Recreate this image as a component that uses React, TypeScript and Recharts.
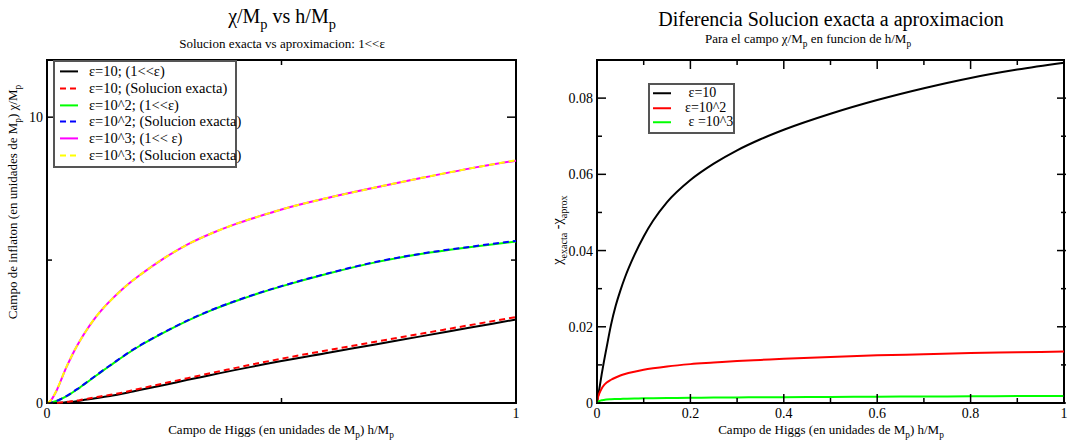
import React from 'react';
import { Legend, Line, LineChart, ReferenceArea, XAxis, YAxis } from 'recharts';

const FONT = '"Liberation Serif", "Times New Roman", serif';

// panel izquierdo: chi/Mp vs h/Mp
const hLeft = [0, 0.005, 0.01, 0.02, 0.03, 0.04, 0.05, 0.06, 0.07, 0.08, 0.1, 0.12, 0.14, 0.16, 0.18, 0.2, 0.25, 0.3, 0.35, 0.4, 0.45, 0.5, 0.6, 0.7, 0.8, 0.9, 1];
const eps10Aprox = [0, 0.001, 0.002, 0.005, 0.01, 0.025, 0.04, 0.055, 0.08, 0.11, 0.16, 0.21, 0.26, 0.32, 0.39, 0.46, 0.63, 0.81, 0.98, 1.15, 1.31, 1.47, 1.76, 2.05, 2.34, 2.63, 2.92];
const eps10Exacta = [0, 0.001, 0.003, 0.008, 0.02, 0.035, 0.055, 0.075, 0.1, 0.13, 0.19, 0.25, 0.3, 0.36, 0.44, 0.51, 0.69, 0.87, 1.05, 1.22, 1.39, 1.55, 1.85, 2.14, 2.43, 2.72, 3.01];
const eps100Aprox = [0, 0.005, 0.02, 0.07, 0.14, 0.22, 0.32, 0.43, 0.54, 0.66, 0.9, 1.14, 1.37, 1.6, 1.82, 2.02, 2.47, 2.88, 3.24, 3.55, 3.83, 4.08, 4.53, 4.92, 5.22, 5.45, 5.65];
const eps100Exacta = [0, 0.005, 0.02, 0.07, 0.14, 0.23, 0.33, 0.44, 0.55, 0.67, 0.91, 1.15, 1.38, 1.61, 1.83, 2.03, 2.48, 2.89, 3.25, 3.56, 3.84, 4.09, 4.54, 4.93, 5.23, 5.46, 5.67];
const eps1000Aprox = [0, 0.04, 0.13, 0.42, 0.8, 1.2, 1.55, 1.88, 2.17, 2.44, 2.92, 3.32, 3.66, 3.97, 4.25, 4.5, 5.07, 5.55, 5.93, 6.25, 6.52, 6.77, 7.18, 7.54, 7.88, 8.2, 8.48];
const eps1000Exacta = [0, 0.04, 0.14, 0.43, 0.81, 1.21, 1.56, 1.88, 2.17, 2.44, 2.92, 3.32, 3.66, 3.97, 4.25, 4.5, 5.07, 5.55, 5.93, 6.25, 6.52, 6.77, 7.18, 7.54, 7.88, 8.2, 8.49];

const leftXTicks = [0, 0.5, 1];
const leftXLabels = [0, 1];
const leftYTicks = [0, 5, 10];
const leftYLabels = [0, 10];

// panel derecho: diferencia exacta - aproximacion
const hRight = [0, 0.002, 0.005, 0.01, 0.015, 0.02, 0.03, 0.04, 0.05, 0.06, 0.08, 0.1, 0.12, 0.15, 0.2, 0.25, 0.3, 0.35, 0.4, 0.5, 0.6, 0.7, 0.8, 0.9, 1];
const dif10 = [0, 0.0016, 0.0037, 0.0075, 0.011, 0.0142, 0.0205, 0.0255, 0.0295, 0.033, 0.0388, 0.0437, 0.0478, 0.0527, 0.0585, 0.0628, 0.0663, 0.0692, 0.0717, 0.0759, 0.0795, 0.0826, 0.0853, 0.0875, 0.0893];
const dif100 = [0, 0.0014, 0.0025, 0.0038, 0.0047, 0.0053, 0.0061, 0.0067, 0.0072, 0.0076, 0.0082, 0.0087, 0.0091, 0.0096, 0.0102, 0.0106, 0.011, 0.0113, 0.0116, 0.0121, 0.0125, 0.0128, 0.0131, 0.0133, 0.0135];
const dif1000 = [0, 0.0003, 0.0005, 0.0007, 0.0008, 0.0009, 0.00098, 0.00104, 0.00108, 0.00112, 0.00118, 0.00122, 0.00126, 0.00131, 0.00138, 0.00142, 0.00146, 0.0015, 0.00153, 0.00159, 0.00165, 0.0017, 0.00176, 0.00181, 0.00186];

const rightXTicks = [0, 0.1, 0.2, 0.3, 0.4, 0.5, 0.6, 0.7, 0.8, 0.9, 1];
const rightXLabels = [0, 0.2, 0.4, 0.6, 0.8, 1];
const rightYTicks = [0, 0.01, 0.02, 0.03, 0.04, 0.05, 0.06, 0.07, 0.08];
const rightYLabels = [0, 0.02, 0.04, 0.06, 0.08];

const leftRows = hLeft.map((h, i) => ({
  h,
  a10: eps10Aprox[i],
  x10: eps10Exacta[i],
  a100: eps100Aprox[i],
  x100: eps100Exacta[i],
  a1000: eps1000Aprox[i],
  x1000: eps1000Exacta[i],
}));
const rightRows = hRight.map((h, i) => ({ h, d10: dif10[i], d100: dif100[i], d1000: dif1000[i] }));

const leftKeys = ['a10', 'x10', 'a100', 'x100', 'a1000', 'x1000'];
const rightKeys = ['d10', 'd100', 'd1000'];

const PLOT_W = 469;
const PLOT_H = 343;

const isIn = (list: number[], v: number) => list.some((t) => Math.abs(t - v) < 1e-9);
const fmt = (v: number) => String(Number(v.toFixed(4)));

// ticks hacia adentro, con espejo arriba / a la derecha
function BottomTick(props: any) {
  const { x, y, payload, labels } = props;
  const v = payload.value;
  const major = isIn(labels, v);
  const len = major ? 9 : 5;
  return (
    <g>
      <line x1={x} x2={x} y1={y} y2={y - len} stroke="#000" strokeWidth={1.5} />
      <line x1={x} x2={x} y1={y - PLOT_H} y2={y - PLOT_H + len} stroke="#000" strokeWidth={1.5} />
      {major && (
        <text x={x} y={y + 15} textAnchor="middle" fontSize={14} fontFamily={FONT} fill="#000">
          {fmt(v)}
        </text>
      )}
    </g>
  );
}

function LeftTick(props: any) {
  const { x, y, payload, labels } = props;
  const v = payload.value;
  const major = isIn(labels, v);
  const len = major ? 9 : 5;
  return (
    <g>
      <line x1={x} x2={x + len} y1={y} y2={y} stroke="#000" strokeWidth={1.5} />
      <line x1={x + PLOT_W} x2={x + PLOT_W - len} y1={y} y2={y} stroke="#000" strokeWidth={1.5} />
      {major && (
        <text x={x - 4} y={y + 5} textAnchor="end" fontSize={14} fontFamily={FONT} fill="#000">
          {fmt(v)}
        </text>
      )}
    </g>
  );
}

function LegendBox({ payload, keys, width, rowH, padX, fontSize, x1 }: any) {
  const items = [...(payload || [])].sort(
    (a: any, b: any) => keys.indexOf(a.dataKey) - keys.indexOf(b.dataKey)
  );
  return (
    <div
      style={{
        border: '2px solid #555',
        background: '#fff',
        width,
        boxSizing: 'border-box',
        padding: '1px 0 2px 0',
        fontFamily: FONT,
        fontSize,
        lineHeight: `${rowH}px`,
      }}
    >
      {items.map((it: any) => (
        <div key={it.dataKey} style={{ display: 'flex', alignItems: 'center', whiteSpace: 'pre' }}>
          <svg width={padX} height={rowH} style={{ flex: 'none' }}>
            <line
              x1={x1}
              x2={x1 + 18}
              y1={rowH / 2}
              y2={rowH / 2}
              stroke={it.color}
              strokeWidth={2}
              strokeDasharray={it.payload?.strokeDasharray}
            />
          </svg>
          <span>{it.value}</span>
        </div>
      ))}
    </div>
  );
}

const Sub = ({ children }: any) => (
  <span style={{ fontSize: '0.72em', position: 'relative', top: '0.45em' }}>{children}</span>
);

const abs = (left: number, top: number, extra: any = {}) => ({
  position: 'absolute' as const,
  left,
  top,
  transform: 'translate(-50%, -50%)',
  whiteSpace: 'nowrap' as const,
  lineHeight: 1,
  ...extra,
});

export default function App() {
  return (
    <div
      style={{
        position: 'absolute',
        left: 0,
        top: 0,
        width: 1092,
        height: 442,
        background: '#fff',
        overflow: 'hidden',
        fontFamily: FONT,
        color: '#000',
      }}
    >
      {/* titulos */}
      <div style={abs(282, 16, { fontSize: 20 })}>
        χ/M<Sub>p</Sub> vs h/M<Sub>p</Sub>
      </div>
      <div style={abs(282, 43, { fontSize: 13 })}>Solucion exacta vs aproximacion: 1&lt;&lt;ε</div>
      <div style={abs(831, 19, { fontSize: 20 })}>Diferencia Solucion exacta a aproximacion</div>
      <div style={abs(808, 39, { fontSize: 13 })}>
        Para el campo χ/M<Sub>p</Sub> en funcion de h/M<Sub>p</Sub>
      </div>

      {/* panel izquierdo */}
      <div style={{ position: 'absolute', left: 0, top: 0 }}>
        <LineChart width={546} height={442} data={leftRows} margin={{ top: 60, right: 30, bottom: 9, left: 7 }}>
          <XAxis
            dataKey="h"
            type="number"
            domain={[0, 1]}
            ticks={leftXTicks}
            interval={0}
            height={30}
            tickSize={0}
            tickMargin={0}
            tickLine={false}
            axisLine={false}
            tick={(p: any) => <BottomTick {...p} labels={leftXLabels} />}
          />
          <YAxis
            type="number"
            domain={[0, 12]}
            ticks={leftYTicks}
            interval={0}
            width={40}
            tickSize={0}
            tickMargin={0}
            tickLine={false}
            axisLine={false}
            tick={(p: any) => <LeftTick {...p} labels={leftYLabels} />}
          />
          <ReferenceArea x1={0} x2={1} y1={0} y2={12} fill="none" stroke="#000" strokeWidth={2} />
          <Line type="monotone" dataKey="a10" name="ε=10; (1<<ε)" stroke="#000000" strokeWidth={2} dot={false} isAnimationActive={false} />
          <Line type="monotone" dataKey="x10" name="ε=10; (Solucion exacta)" stroke="#ff0000" strokeWidth={2} strokeDasharray="6 4" dot={false} isAnimationActive={false} />
          <Line type="monotone" dataKey="a100" name="ε=10^2; (1<<ε)" stroke="#00ff00" strokeWidth={2} dot={false} isAnimationActive={false} />
          <Line type="monotone" dataKey="x100" name="ε=10^2; (Solucion exacta)" stroke="#0000ff" strokeWidth={2} strokeDasharray="6 4" dot={false} isAnimationActive={false} />
          <Line type="monotone" dataKey="a1000" name="ε=10^3; (1<< ε)" stroke="#ff00ff" strokeWidth={2} dot={false} isAnimationActive={false} />
          <Line type="monotone" dataKey="x1000" name="ε=10^3; (Solucion exacta)" stroke="#ffff00" strokeWidth={2} strokeDasharray="6 4" dot={false} isAnimationActive={false} />
          <Legend
            layout="vertical"
            align="center"
            verticalAlign="middle"
            wrapperStyle={{ left: 53, top: 60, width: 184 }}
            content={(p: any) => (
              <LegendBox payload={p.payload} keys={leftKeys} width={184} rowH={16.8} padX={34} fontSize={14.5} x1={5} />
            )}
          />
        </LineChart>
      </div>
      <div style={abs(13, 202, { fontSize: 13, transform: 'translate(-50%, -50%) rotate(-90deg)' })}>
        Campo de inflaton (en unidades de M<Sub>p</Sub>) χ/M<Sub>p</Sub>
      </div>
      <div style={abs(281, 430, { fontSize: 13 })}>
        Campo de Higgs (en unidades de M<Sub>p</Sub>) h/M<Sub>p</Sub>
      </div>

      {/* panel derecho */}
      <div style={{ position: 'absolute', left: 546, top: 0 }}>
        <LineChart width={546} height={442} data={rightRows} margin={{ top: 60, right: 28, bottom: 9, left: 11 }}>
          <XAxis
            dataKey="h"
            type="number"
            domain={[0, 1]}
            ticks={rightXTicks}
            interval={0}
            height={30}
            tickSize={0}
            tickMargin={0}
            tickLine={false}
            axisLine={false}
            tick={(p: any) => <BottomTick {...p} labels={rightXLabels} />}
          />
          <YAxis
            type="number"
            domain={[0, 0.09]}
            ticks={rightYTicks}
            interval={0}
            width={40}
            tickSize={0}
            tickMargin={0}
            tickLine={false}
            axisLine={false}
            tick={(p: any) => <LeftTick {...p} labels={rightYLabels} />}
          />
          <ReferenceArea x1={0} x2={1} y1={0} y2={0.09} fill="none" stroke="#000" strokeWidth={2} />
          <Line type="monotone" dataKey="d10" name=" ε=10" stroke="#000000" strokeWidth={2} dot={false} isAnimationActive={false} />
          <Line type="monotone" dataKey="d100" name="ε=10^2" stroke="#ff0000" strokeWidth={2} dot={false} isAnimationActive={false} />
          <Line type="monotone" dataKey="d1000" name=" ε =10^3" stroke="#00ff00" strokeWidth={2} dot={false} isAnimationActive={false} />
          <Legend
            layout="vertical"
            align="center"
            verticalAlign="middle"
            wrapperStyle={{ left: 102, top: 83, width: 87 }}
            content={(p: any) => (
              <LegendBox payload={p.payload} keys={rightKeys} width={87} rowH={14.5} padX={35} fontSize={14} x1={3} />
            )}
          />
        </LineChart>
      </div>
      <div style={abs(558, 230, { fontSize: 14, transform: 'translate(-50%, -50%) rotate(-90deg)' })}>
        χ<Sub>exacta</Sub> -χ<Sub>aprox</Sub>
      </div>
      <div style={abs(831, 430, { fontSize: 13 })}>
        Campo de Higgs (en unidades de M<Sub>p</Sub>) h/M<Sub>p</Sub>
      </div>
    </div>
  );
}
